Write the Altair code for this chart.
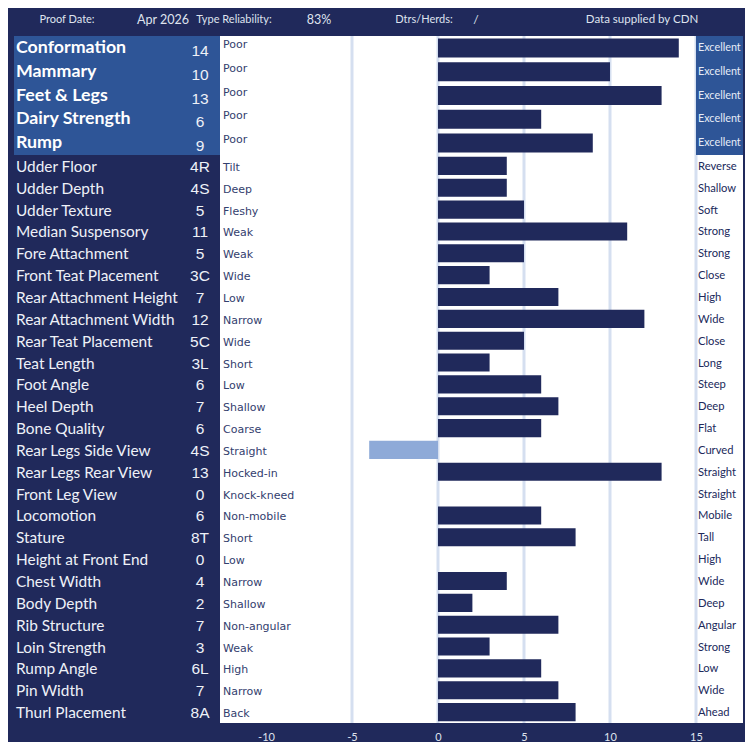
import altair as alt
import pandas as pd

# ---------------- data ----------------
traits = ["Conformation", "Mammary", "Feet & Legs", "Dairy Strength", "Rump",
          "Udder Floor", "Udder Depth", "Udder Texture", "Median Suspensory",
          "Fore Attachment", "Front Teat Placement", "Rear Attachment Height",
          "Rear Attachment Width", "Rear Teat Placement", "Teat Length",
          "Foot Angle", "Heel Depth", "Bone Quality", "Rear Legs Side View",
          "Rear Legs Rear View", "Front Leg View", "Locomotion", "Stature",
          "Height at Front End", "Chest Width", "Body Depth", "Rib Structure",
          "Loin Strength", "Rump Angle", "Pin Width", "Thurl Placement"]
values = [14, 10, 13, 6, 9,
          4, 4, 5, 11, 5, 3, 7, 12, 5, 3, 6, 7, 6, -4, 13, 0, 6, 8, 0, 4, 2, 7, 3, 6, 7, 8]
value_labels = ["14", "10", "13", "6", "9",
                "4R", "4S", "5", "11", "5", "3C", "7", "12", "5C", "3L", "6", "7", "6",
                "4S", "13", "0", "6", "8T", "0", "4", "2", "7", "3", "6L", "7", "8A"]
left_desc = ["Poor", "Poor", "Poor", "Poor", "Poor",
             "Tilt", "Deep", "Fleshy", "Weak", "Weak", "Wide", "Low", "Narrow", "Wide",
             "Short", "Low", "Shallow", "Coarse", "Straight", "Hocked-in", "Knock-kneed",
             "Non-mobile", "Short", "Low", "Narrow", "Shallow", "Non-angular", "Weak",
             "High", "Narrow", "Back"]
right_desc = ["Excellent", "Excellent", "Excellent", "Excellent", "Excellent",
              "Reverse", "Shallow", "Soft", "Strong", "Strong", "Close", "High", "Wide",
              "Close", "Long", "Steep", "Deep", "Flat", "Curved", "Straight", "Straight",
              "Mobile", "Tall", "High", "Wide", "Deep", "Angular", "Strong", "Low", "Wide",
              "Ahead"]
grid_values = [-5, 0, 5, 10, 15]
tick_values = [-10, -5, 0, 5, 10, 15]
header_texts = ["Proof Date:", "Apr 2026", "Type Reliability:", "83%",
                "Dtrs/Herds:", "/", "Data supplied by CDN"]
N_TOP = 5

# ---------------- style ----------------
NAVY = "#20295b"
BLUE = "#2e5597"
NEG = "#8eaad8"
GRID = "#d5dff0"
DESC = "#33406e"
LIGHT = "#dfe3ee"

W, H = 523, 687
TOP_H = 119

df = pd.DataFrame({"trait": traits, "value": values, "label": value_labels,
                   "left": left_desc, "right": right_desc})
top_df = df.iloc[:N_TOP]
bot_df = df.iloc[N_TOP:]

xscale = alt.Scale(domain=[-12.674, 17.733], nice=False, zero=False)
xaxis = alt.Axis(values=tick_values, grid=False, domain=False, ticks=False,
                 labelColor=LIGHT, labelFont="Lato", labelFontSize=11,
                 labelPadding=8, labelExpr="'' + datum.value")


def group(d, rng, is_top):
    base = alt.Chart(d).encode(
        y=alt.Y("trait:N", axis=None,
                scale=alt.Scale(domain=list(d["trait"]), range=rng,
                                paddingInner=0.2 if is_top else 0.17,
                                paddingOuter=0.1 if is_top else 0.085)))
    bars = base.mark_bar().encode(
        x=alt.X("value:Q", scale=xscale, axis=xaxis, title=None),
        color=alt.condition("datum.value < 0", alt.value(NEG), alt.value(NAVY)))
    names = base.mark_text(align="left", baseline="middle", font="Lato",
                           fontSize=17.8 if is_top else 15.4,
                           fontWeight="bold" if is_top else "normal",
                           color="#ffffff" if is_top else "#eef1f8",
                           dy=0 if is_top else 1).encode(
        x=alt.value(-204), text="trait:N")
    vals = base.mark_text(align="center", baseline="middle", font="Liberation Sans",
                          fontSize=15.5, color="#eef1f8", dy=3 if is_top else 1).encode(
        x=alt.value(-20), text="label:N")
    ldesc = base.mark_text(align="left", baseline="middle", font="DejaVu Sans",
                           fontSize=11, color=DESC, dy=-3 if is_top else 2).encode(
        x=alt.value(3), text="left:N")
    rdesc = base.mark_text(align="left", baseline="middle", font="Lato",
                           fontSize=10.8 if is_top else 11.2,
                           color="#e6ecf7" if is_top else NAVY,
                           dy=0 if is_top else 1).encode(
        x=alt.value(478), text="right:N")
    return alt.layer(bars, names, vals, ldesc, rdesc)


one = pd.DataFrame({"k": [0]})
grid = alt.Chart(pd.DataFrame({"g": grid_values})).mark_rule(
    color=GRID, strokeWidth=3).encode(
    x=alt.X("g:Q", scale=xscale, axis=xaxis, title=None),
    y=alt.value(0), y2=alt.value(H))
left_box = alt.Chart(one).mark_rect(color=BLUE).encode(
    x=alt.value(-206), x2=alt.value(0), y=alt.value(0), y2=alt.value(TOP_H))
right_box = alt.Chart(one).mark_rect(color=BLUE).encode(
    x=alt.value(476), x2=alt.value(W), y=alt.value(0), y2=alt.value(TOP_H))

header_x = [-153, -57, 14, 99, 204, 256, 422]
header_size = [11, 12.5, 11, 12.5, 11, 12, 11.5]
headers = []
for t, hx, hs in zip(header_texts, header_x, header_size):
    headers.append(
        alt.Chart(one).mark_text(align="center", baseline="middle", font="Lato",
                                 fontSize=hs, color=LIGHT, text=t).encode(
            x=alt.value(hx), y=alt.value(-16)))

top_group = group(top_df, [0, TOP_H], True)
bot_group = group(bot_df, [TOP_H, H], False)

chart = alt.layer(grid, left_box, right_box, top_group, bot_group, *headers).resolve_scale(
    y="independent"
).properties(
    width=W, height=H,
    autosize=alt.AutoSizeParams(type="none"),
    padding={"left": 212, "top": 28, "right": 2, "bottom": 19},
    background=NAVY,
).configure_view(fill="white", strokeWidth=0)

chart.save("out.html", embed_options={"renderer": "svg", "actions": False})
